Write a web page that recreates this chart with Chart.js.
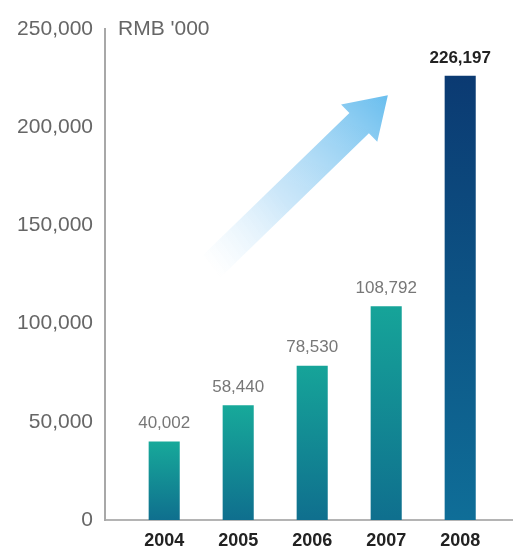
<!DOCTYPE html>
<html>
<head>
<meta charset="utf-8">
<script src="https://cdn.jsdelivr.net/npm/chart.js@4/dist/chart.umd.min.js"></script>
<style>
    html, body { margin: 0; padding: 0; background: #fff; }
    #wrap { width: 513px; height: 552px; position: relative; }
</style>
</head>
<body>
<div id="wrap"><canvas id="revenueChart"></canvas></div>
<script>
// Chart data
const years = [2004, 2005, 2006, 2007, 2008];
const revenue = [40002, 58440, 78530, 108792, 226197];
const valueLabels = ['40,002', '58,440', '78,530', '108,792', '226,197'];
const yTicks = [0, 50000, 100000, 150000, 200000, 250000];
const unitLabel = "RMB '000";

// Bar colours (top -> bottom of each bar)
const topColors = ['#17a99a', '#17a99a', '#16a499', '#16a499', '#0b3a72'];
const bottomColors = ['#0f6f8e', '#0f6f8e', '#0f6f8e', '#0f6f8e', '#0f6e98'];

// Gradient per bar, from its own top down to the baseline
function barGradient(context) {
    const chart = context.chart;
    const { chartArea, scales } = chart;
    const i = context.dataIndex;
    if (!chartArea) return bottomColors[i];
    const yTop = scales.y.getPixelForValue(context.parsed.y);
    const g = chart.ctx.createLinearGradient(0, yTop, 0, chartArea.bottom);
    g.addColorStop(0, topColors[i]);
    g.addColorStop(1, bottomColors[i]);
    return g;
}

// Decorative rising arrow behind the bars
const arrowPlugin = {
    id: 'arrow',
    beforeDatasetsDraw(chart) {
        const { ctx, chartArea: a } = chart;
        const w = a.right - a.left, h = a.bottom - a.top;
        const tail = { x: a.left + w * 0.26, y: a.top + h * 0.485 };
        const tip = { x: a.left + w * 0.695, y: a.top + h * 0.135 };
        const dx = tip.x - tail.x, dy = tip.y - tail.y;
        const len = Math.hypot(dx, dy);
        const ux = dx / len, uy = dy / len, nx = -uy, ny = ux;
        const shaft = 14, head = 26, headLen = 40;
        const bx = tip.x - ux * headLen, by = tip.y - uy * headLen;
        ctx.save();
        const g = ctx.createLinearGradient(tail.x, tail.y, tip.x, tip.y);
        g.addColorStop(0, 'rgba(200,230,250,0)');
        g.addColorStop(0.4, 'rgba(170,215,245,0.6)');
        g.addColorStop(1, 'rgba(105,190,238,1)');
        ctx.fillStyle = g;
        ctx.beginPath();
        ctx.moveTo(tail.x + nx * shaft, tail.y + ny * shaft);
        ctx.lineTo(bx + nx * shaft, by + ny * shaft);
        ctx.lineTo(bx + nx * head, by + ny * head);
        ctx.lineTo(tip.x, tip.y);
        ctx.lineTo(bx - nx * head, by - ny * head);
        ctx.lineTo(bx - nx * shaft, by - ny * shaft);
        ctx.lineTo(tail.x - nx * shaft, tail.y - ny * shaft);
        ctx.closePath();
        ctx.fill();
        ctx.restore();
    }
};

// Value labels above bars + unit label beside the y axis
const labelPlugin = {
    id: 'valueLabels',
    afterDatasetsDraw(chart) {
        const { ctx, chartArea } = chart;
        const meta = chart.getDatasetMeta(0);
        ctx.save();
        ctx.textAlign = 'center';
        ctx.textBaseline = 'middle';
        meta.data.forEach((bar, i) => {
            const last = i === meta.data.length - 1;
            ctx.font = last ? 'bold 17px "Liberation Sans", Arial, sans-serif'
                            : '17px "Liberation Sans", Arial, sans-serif';
            ctx.fillStyle = last ? '#222' : '#777';
            ctx.fillText(valueLabels[i], bar.x, bar.y - (last ? 17 : 18));
        });
        ctx.textAlign = 'left';
        ctx.font = '21px "Liberation Sans", Arial, sans-serif';
        ctx.fillStyle = '#666';
        ctx.fillText(unitLabel, chartArea.left + 13, chartArea.top);
        ctx.restore();
    }
};

document.addEventListener('DOMContentLoaded', function() {
    const ctx = document.getElementById('revenueChart').getContext('2d');
    new Chart(ctx, {
        type: 'bar',
        data: {
            datasets: [{
                data: years.map((yr, i) => ({ x: yr, y: revenue[i] })),
                backgroundColor: barGradient,
                borderWidth: 0,
                categoryPercentage: 1,
                barPercentage: 0.42
            }]
        },
        options: {
            responsive: true,
            maintainAspectRatio: false,
            animation: false,
            layout: { padding: { top: 29, right: 1, left: 0, bottom: 0 } },
            plugins: {
                legend: { display: false },
                tooltip: { enabled: false }
            },
            scales: {
                x: {
                    type: 'linear',
                    offset: false,
                    min: 2003.2,
                    max: 2008.7,
                    grid: { display: false, drawTicks: false },
                    border: { display: true, color: '#b4b4b4', width: 2 },
                    afterBuildTicks: axis => { axis.ticks = years.map(v => ({ value: v })); },
                    afterFit: axis => { axis.height = 32; },
                    ticks: {
                        callback: v => String(v),
                        color: '#222',
                        padding: 10,
                        font: { family: '"Liberation Sans", Arial, sans-serif', size: 18, weight: 'bold' }
                    }
                },
                y: {
                    min: 0,
                    max: 250000,
                    grid: { display: false, drawTicks: false },
                    border: { display: true, color: '#a8a8a8', width: 2 },
                    afterBuildTicks: axis => { axis.ticks = yTicks.map(v => ({ value: v })); },
                    afterFit: axis => { axis.width = 105; },
                    ticks: {
                        callback: v => v.toLocaleString('en-US'),
                        color: '#666',
                        padding: 12,
                        font: { family: '"Liberation Sans", Arial, sans-serif', size: 21 }
                    }
                }
            }
        },
        plugins: [arrowPlugin, labelPlugin]
    });
});
</script>
</body>
</html>
